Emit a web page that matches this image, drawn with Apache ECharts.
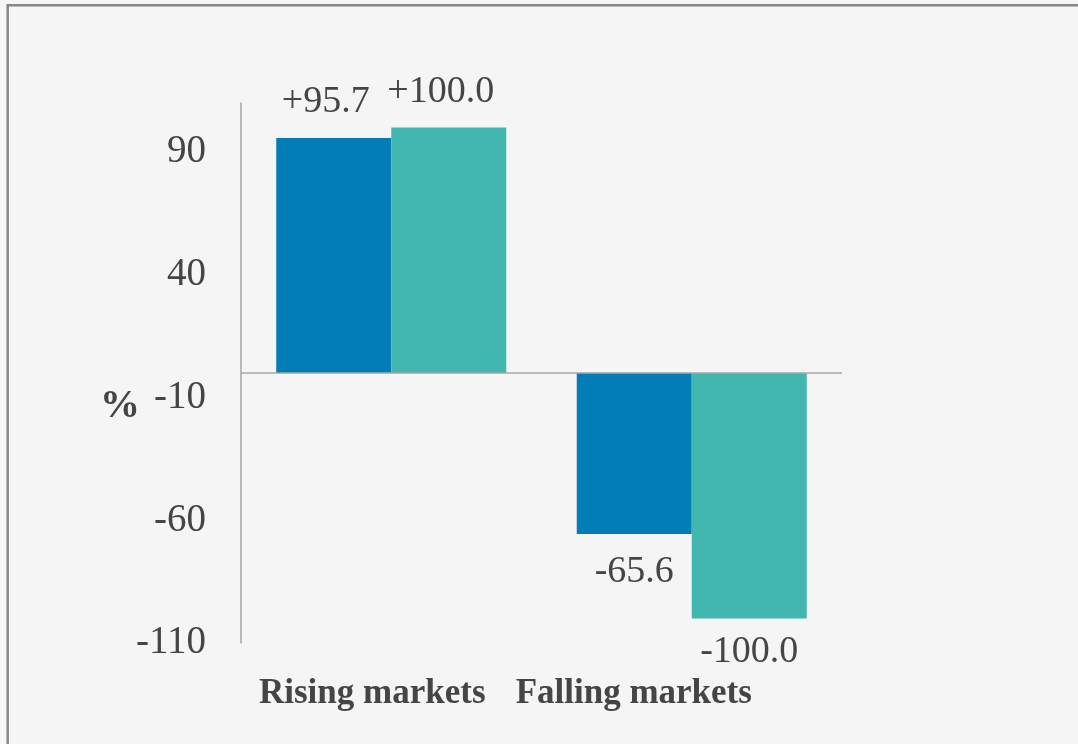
<!DOCTYPE html>
<html>
<head>
<meta charset="utf-8">
<script src="https://cdn.jsdelivr.net/npm/echarts@6/dist/echarts.min.js"></script>
<style>
html,body{margin:0;padding:0;background:#f5f5f5;}
#chart{width:1078px;height:744px;}
</style>
</head>
<body>
<div id="chart"></div>
<script>
const categories = ['Rising markets', 'Falling markets'];
const seriesA = [95.7, -65.6];
const seriesB = [100.0, -100.0];
const yMin = -110, yMax = 110, yInterval = 50;
const yAxisName = '%';

const textColor = '#454545';
const serif = '"Liberation Serif", "DejaVu Serif", serif';

function fmt(v) { return (v > 0 ? '+' : '') + v.toFixed(1); }
function mkData(arr, negDist) {
  return arr.map(v => ({
    value: v,
    label: {
      position: v >= 0 ? 'top' : 'bottom',
      distance: v >= 0 ? 17 : negDist,
      offset: v >= 0 ? [-8, 0] : [0, 0]
    }
  }));
}
const labelCommon = {
  show: true,
  fontFamily: serif,
  fontSize: 38,
  color: textColor,
  formatter: p => fmt(p.value)
};

const chart = echarts.init(document.getElementById('chart'), null, {renderer: 'canvas'});
chart.setOption({
  backgroundColor: '#f5f5f5',
  animation: false,
  grid: {left: 241, right: 236, top: 103, bottom: 101, containLabel: false},
  graphic: [
    {type: 'rect', shape: {x: 7.7, y: 5.3, width: 1200, height: 900},
     style: {fill: 'none', stroke: '#888888', lineWidth: 2.5}, silent: true},
    {type: 'text', x: 120, y: 407,
     style: {text: yAxisName, font: 'bold 40px ' + serif, fill: textColor, align: 'center', verticalAlign: 'middle'}}
  ],
  xAxis: {
    type: 'category',
    data: categories,
    axisLine: {show: false, onZero: false},
    axisTick: {show: false},
    axisLabel: {
      margin: 33,
      interval: 0,
      formatter: (v, i) => (i === 0 ? '{a|' : '{b|') + v + '}',
      rich: {
        a: {fontFamily: serif, fontSize: 35, fontWeight: 'bold', color: textColor, padding: [0, 38, 0, 0]},
        b: {fontFamily: serif, fontSize: 35, fontWeight: 'bold', color: textColor, padding: [0, 116, 0, 0]}
      }
    }
  },
  yAxis: {
    type: 'value',
    min: yMin, max: yMax, interval: yInterval,
    splitLine: {show: false},
    axisTick: {show: false},
    axisLine: {show: true, lineStyle: {color: '#a6a6a6', width: 1.5}},
    axisLabel: {showMaxLabel: false, margin: 35, fontFamily: serif, fontSize: 39, color: textColor}
  },
  series: [
    {
      type: 'bar', data: mkData(seriesA, 19), barWidth: 115, barGap: '0%',
      itemStyle: {color: '#037db8'},
      label: labelCommon,
      markLine: {
        silent: true, symbol: ['none', 'none'], animation: false,
        label: {show: false},
        lineStyle: {color: '#a6a6a6', width: 1.5, type: 'solid'},
        data: [{yAxis: 0}]
      }
    },
    {
      type: 'bar', data: mkData(seriesB, 15), barWidth: 115, barGap: '0%',
      itemStyle: {color: '#42b7b0'},
      label: labelCommon
    }
  ]
});
</script>
</body>
</html>
